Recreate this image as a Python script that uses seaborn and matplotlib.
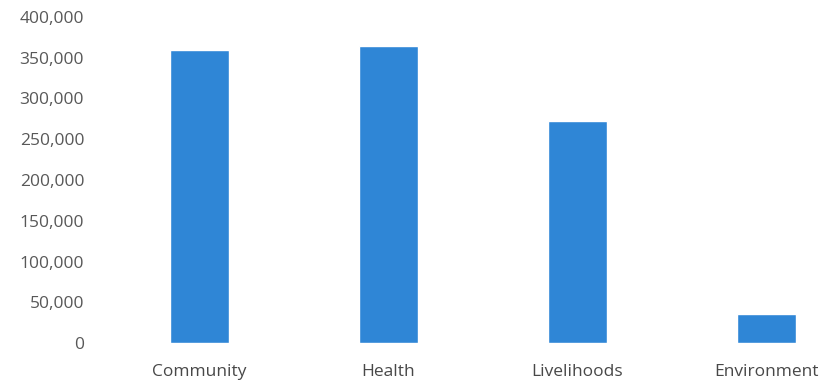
import matplotlib
matplotlib.use("Agg")
import matplotlib.pyplot as plt
import seaborn as sns
import pandas as pd
from matplotlib.ticker import FuncFormatter, MultipleLocator

# Spending by programme area
categories = ["Community", "Health", "Livelihoods", "Environment"]
values = [360000, 365000, 272000, 35000]

df = pd.DataFrame({"area": categories, "amount": values})

sns.set_theme(style="white")
plt.rcParams["font.family"] = ["Open Sans", "DejaVu Sans"]

fig = plt.figure(figsize=(8.3, 3.85), dpi=100)
ax = fig.add_axes([105 / 830, 1 - 343 / 385, 756 / 830, (343 - 17) / 385])

sns.barplot(data=df, x="area", y="amount", color="#2F86D6", width=0.31,
            saturation=1, ax=ax)

ax.set_xlim(-0.5, 3.5)
ax.set_ylim(0, 400000)
ax.yaxis.set_major_locator(MultipleLocator(50000))
ax.yaxis.set_major_formatter(FuncFormatter(lambda v, _: f"{int(v):,}"))
ax.set_xlabel("")
ax.set_ylabel("")
for s in ax.spines.values():
    s.set_visible(False)
ax.tick_params(axis="y", length=0, pad=15, labelsize=12.5, labelcolor="#585858")
ax.tick_params(axis="x", length=0, pad=15, labelsize=12.5, labelcolor="#484848")

fig.savefig("out.png", dpi=100, facecolor="white")
